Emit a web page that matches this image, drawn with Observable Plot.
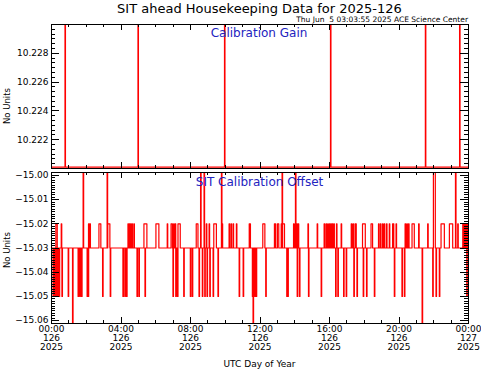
<!DOCTYPE html>
<html><head><meta charset="utf-8">
<script src="https://cdn.jsdelivr.net/npm/d3@7"></script>
<script src="https://cdn.jsdelivr.net/npm/@observablehq/plot@0.6"></script>
<style>
body{margin:0;background:#fff;}
#wrap{position:relative;width:481px;height:370px;overflow:hidden;font-family:"DejaVu Sans",sans-serif;background:#fff;}
#wrap svg{position:absolute;left:0;}
.t{position:absolute;white-space:pre;line-height:1;color:#000;}
</style></head><body><div id="wrap"></div>
<script>
// ---- texts ----
const titleText = "SIT ahead Housekeeping Data for 2025-126";
const stampText = "Thu Jun  5 03:03:55 2025 ACE Science Center";
const gainLabel = "Calibration Gain";
const offsetLabel = "SIT Calibration Offset";
const yLabel = "No Units";
const xLabel = "UTC Day of Year";
// ---- x ticks (hours of day 126) ----
const xTickHours = [0, 4, 8, 12, 16, 20, 24];
const xTickTimes = ["00:00", "04:00", "08:00", "12:00", "16:00", "20:00", "00:00"];
const xTickDays = ["126", "126", "126", "126", "126", "126", "127"];
const xTickYear = "2025";
// ---- y ticks ----
const gainTicks = [10.222, 10.224, 10.226, 10.228];
const offsetTicks = [-15.06, -15.05, -15.04, -15.03, -15.02, -15.01, -15.00];
// ---- calibration gain ----
const gainBase = 10.2201;
const gainSpikeValue = 10.24;
const gainSpikeHours = [0.79, 4.99, 9.97, 16.07, 21.53, 23.50];
// ---- calibration offset ----
const offsetBase = -15.03;
const offsetHigh = -15.02;
const offsetLow = -15.05;
const offsetTop = -14.99;
const offsetBottom = -15.07;
const highPulses = [[0.25,0.33],0.56,[2.13,2.17],2.21,[2.73,2.84],[3.24,3.36],4.40,4.47,4.55,4.63,4.74,[5.32,5.49],
  [6.01,6.18],6.66,[6.88,6.96],7.03,7.12,[7.28,7.41],[8.33,8.43],8.91,9.07,[9.34,9.49],9.82,10.22,10.33,10.45,10.64,[11.38,11.45],
  [12.16,12.28],[12.83,12.90],[13.00,13.08],[13.22,13.41],13.93,14.02,14.12,14.20,14.76,15.29,15.69,15.80,15.90,16.00,16.08,16.16,16.25,16.40,16.67,17.25,17.35,[17.47,17.54],
  [17.90,18.06],[18.39,18.48],18.82,18.93,19.05,19.15,19.28,19.44,[19.63,19.70],19.83,20.35,20.45,20.55,[20.75,20.88],21.13,21.65,[22.42,22.61],[22.90,23.09],23.38,23.67,23.72,23.77,23.82,23.87,23.92];
const lowPulses = [0.09,0.15,0.21,0.27,0.33,0.39,0.44,0.60,0.96,1.53,1.63,1.73,2.05,2.11,2.94,3.38,4.11,4.22,4.32,4.92,5.03,5.38,
  6.99,7.15,7.25,7.61,7.99,8.10,8.49,8.68,8.82,8.95,9.11,9.30,9.58,10.80,11.03,11.56,11.70,
  11.78,12.33,13.54,13.60,14.14,14.27,14.79,15.52,16.35,16.48,16.81,16.96,17.40,17.58,
  17.94,18.13,18.58,19.73,20.17,20.31,21.94,22.13,22.32,23.90];
const topSpikes = [1.82,3.20,8.58,8.78,9.78,13.27,14.04,[21.98,22.09],23.25];
const bottomSpikes = [1.21,11.60,21.33];

// ---- build series ----
const narrow = 0.03;
function span(p){ return Array.isArray(p) ? p : [p, p + narrow]; }
const gainSeries = [{h:0, v:gainBase}];
for (const h of gainSpikeHours) {
  gainSeries.push({h:h-0.01,v:gainBase},{h:h-0.01,v:gainSpikeValue},{h:h+0.01,v:gainSpikeValue},{h:h+0.01,v:gainBase});
}
gainSeries.push({h:24, v:gainBase});

const events = [
  ...highPulses.map(p => ({s:span(p)[0], e:span(p)[1], v:offsetHigh})),
  ...lowPulses.map(p => ({s:span(p)[0], e:span(p)[1], v:offsetLow})),
  ...topSpikes.map(p => ({s:span(p)[0], e:span(p)[1], v:offsetTop})),
  ...bottomSpikes.map(p => ({s:span(p)[0], e:span(p)[1], v:offsetBottom}))
].sort((a,b) => a.s - b.s);
const offsetSeries = [{h:0, v:offsetBase}];
for (const ev of events) {
  offsetSeries.push({h:ev.s,v:offsetBase},{h:ev.s,v:ev.v},{h:ev.e,v:ev.v},{h:ev.e,v:offsetBase});
}
offsetSeries.push({h:24, v:offsetBase});

const RED = "#f00";
const FONT = "DejaVu Sans";

function addTicks(svg, xMaj, xMin, yMaj, yMin, xLen, yLen) {
  const x = svg.scale("x"), y = svg.scale("y");
  const [xl, xr] = x.range; const [yb, yt] = y.range;
  const g = d3.select(svg).append("g").attr("stroke","black").attr("stroke-width",1).attr("fill","none");
  const put = (x1,y1,x2,y2) => g.append("line").attr("x1",x1).attr("y1",y1).attr("x2",x2).attr("y2",y2);
  for (const [vals, len] of [[xMaj, xLen[0]], [xMin, xLen[1]]]) for (const v of vals) {
    const px = Math.round(x.apply(v)) + 0.5;
    put(px, yb, px, yb - len); put(px, yt, px, yt + len);
  }
  for (const [vals, len] of [[yMaj, yLen[0]], [yMin, yLen[1]]]) for (const v of vals) {
    const py = Math.round(y.apply(v)) + 0.5;
    if (py < yt - 0.5 || py > yb + 0.5) continue;
    put(xl, py, xl + len, py); put(xr, py, xr - len, py);
  }
}

const hourMinor = d3.range(0, 25);

// ---- top panel ----
const topPlot = Plot.plot({
  width: 481, height: 172, marginTop: 24, marginBottom: 4, marginLeft: 51, marginRight: 13,
  style: {fontFamily: FONT, fontSize: "9px", background: "transparent", color: "black"},
  x: {domain: [0, 24], axis: null},
  y: {domain: [10.2200, 10.2300], axis: null},
  marks: [
    Plot.line(gainSeries, {x: "h", y: "v", stroke: RED, strokeWidth: 1.3, clip: true}),
    Plot.frame({stroke: "black"}),
    Plot.axisY(gainTicks, {anchor: "left", tickSize: 0, tickPadding: 3, tickFormat: d3.format(".3f"), label: null, fontSize: 9, fill: "black"})
  ]
});
topPlot.style.top = "0px";
const gainMinor = d3.range(0, 31).map(i => 10.22 + i * 0.002 / 6);
addTicks(topPlot, xTickHours, hourMinor, gainTicks, gainMinor, [6, 3], [8, 4]);

// ---- bottom panel ----
const botPlot = Plot.plot({
  width: 481, height: 202, marginTop: 4, marginBottom: 47, marginLeft: 51, marginRight: 13,
  style: {fontFamily: FONT, fontSize: "9px", background: "transparent", color: "black"},
  x: {domain: [0, 24], axis: null},
  y: {domain: [-15.0612, -14.9988], axis: null},
  marks: [
    Plot.line(offsetSeries, {x: "h", y: "v", stroke: RED, strokeWidth: 1.2, clip: true}),
    Plot.frame({stroke: "black"}),
    Plot.axisY(offsetTicks, {anchor: "left", tickSize: 0, tickPadding: 3, tickFormat: d3.format(".2f"), label: null, fontSize: 9, fill: "black"}),
    Plot.axisX(xTickHours, {anchor: "bottom", tickSize: 0, tickPadding: 2, label: null, fontSize: 9, fill: "black", lineHeight: 1.0,
      tickFormat: h => { const i = xTickHours.indexOf(h); return `${xTickTimes[i]}\n${xTickDays[i]}\n${xTickYear}`; }})
  ]
});
botPlot.style.top = "168px";
const offMinor = d3.range(14999, 15062).map(k => -k / 1000);
addTicks(botPlot, xTickHours, hourMinor, offsetTicks, offMinor, [6, 3], [8, 4]);

const wrap = document.getElementById("wrap");
wrap.appendChild(topPlot);
wrap.appendChild(botPlot);

function addText(txt, x, y, size, opts = {}) {
  const d = document.createElement("div");
  d.className = "t";
  d.textContent = txt;
  d.style.fontSize = size + "px";
  d.style.left = x + "px";
  d.style.top = y + "px";
  d.style.color = opts.color || "#000";
  d.style.transform = opts.transform || "translate(-50%,-50%)";
  if (opts.family) d.style.fontFamily = opts.family;
  wrap.appendChild(d);
  return d;
}
addText(titleText, 259.5, 8, 13);
addText(stampText, 468, 19.5, 7.5, {transform: "translate(-100%,-50%)"});
addText(gainLabel, 259, 33, 12, {color: "#2323c0"});
addText(offsetLabel, 259.5, 182, 12, {color: "#2323c0"});
addText(yLabel, 7, 106, 8.5, {transform: "translate(-50%,-50%) rotate(-90deg)"});
addText(yLabel, 7, 250, 8.5, {transform: "translate(-50%,-50%) rotate(-90deg)"});
addText(xLabel, 259.5, 364, 9);
</script>
</body></html>
